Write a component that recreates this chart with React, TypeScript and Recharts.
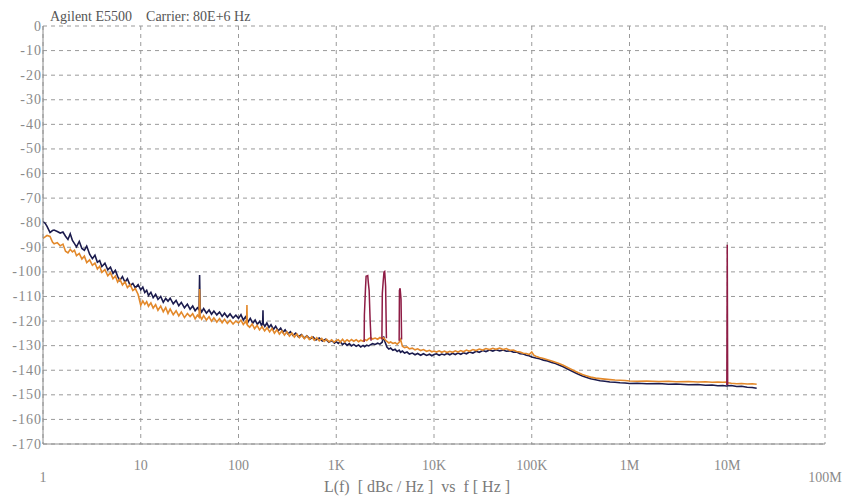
import { LineChart, Line, XAxis, YAxis, CartesianGrid } from "recharts"

// Phase noise traces, [offset frequency Hz, L(f) dBc/Hz]
const navyDecade1: [number, number][] = [
  [1, -79.6], [1.05, -80.2], [1.1, -81.5], [1.18, -84], [1.25, -83.2], [1.3, -83], [1.4, -83.6], [1.5, -84.2],
  [1.6, -83.8], [1.7, -85.5], [1.8, -86.8], [1.9, -84.5], [2.0, -87.2], [2.1, -88.5], [2.2, -89.8], [2.35, -87.6],
  [2.5, -90.5], [2.65, -91.2], [2.8, -89.5], [3.0, -92.8], [3.2, -94.6], [3.4, -93.2], [3.6, -96.1], [3.8, -95.4],
  [4.0, -97.8], [4.3, -96.5], [4.6, -99.2], [4.9, -98.1], [5.2, -100.6], [5.5, -99.4], [5.8, -101.8], [6.1, -103.5],
  [6.5, -101.9], [6.9, -104.2], [7.3, -102.8], [7.8, -105.6], [8.3, -104.7], [8.8, -106.5], [9.4, -105.2], [10, -107.3],
]
const navyDecade2: [number, number][] = [
  [10.5, -106.2], [11, -108.4], [11.5, -107.5], [12, -109.6], [12.7, -108.3], [13.4, -110.5], [14.2, -109.1], [15, -111.2],
  [16, -110.0], [17, -112.4], [18, -110.8], [19, -111.9], [20, -110.7], [21.5, -113.0], [23, -111.6], [24.5, -113.8],
  [26, -112.4], [28, -114.6], [30, -113.1], [32, -115.2], [34, -113.9], [36, -115.8], [38, -114.6], [39.5, -115.4],
  [40, -101.3], [40.5, -114.8], [42, -116.3], [44, -114.9], [47, -116.8], [50, -115.5], [53, -117.2], [56, -115.9],
  [60, -117.5], [64, -116.3], [68, -118.1], [72, -116.8], [77, -118.4], [82, -117.1], [88, -118.8], [94, -117.6], [100, -118.9],
]
const navyDecade3: [number, number][] = [
  [106, -117.4], [112, -119.6], [118, -118.3], [125, -120.4], [132, -118.9], [140, -120.9], [148, -119.6], [156, -121.3],
  [165, -120.1], [172, -121.8], [177, -120.5], [178, -115.6], [179, -121.0], [186, -122.2], [195, -120.8], [205, -122.6],
  [215, -121.5], [228, -123.4], [240, -122.1], [255, -124.0], [270, -122.9], [285, -124.6], [300, -123.6], [320, -125.2],
  [340, -124.3], [360, -125.8], [385, -124.9], [410, -126.4], [440, -125.5], [470, -126.9], [500, -126.0], [540, -127.3],
  [580, -126.5], [620, -127.7], [670, -126.9], [720, -128.1], [780, -127.4], [840, -128.6], [900, -127.9], [960, -129.0], [1000, -128.4],
]
const navyDecade4: [number, number][] = [
  [1050, -129.1], [1100, -128.4], [1160, -129.6], [1220, -128.9], [1290, -129.9], [1360, -129.2], [1430, -130.1], [1510, -129.5],
  [1600, -130.3], [1690, -129.7], [1780, -130.5], [1880, -129.9], [1950, -130.4], [2050, -129.8], [2150, -130.1], [2250, -129.6],
  [2350, -129.2], [2500, -129.5], [2650, -129.0], [2800, -129.4], [2950, -128.6], [3050, -126.3], [3150, -128.4], [3300, -130.6],
  [3450, -131.4], [3600, -131.0], [3800, -131.9], [4000, -131.5], [4200, -132.4], [4400, -131.8], [4550, -132.7], [4750, -132.2],
  [5000, -133.0], [5300, -132.6], [5600, -133.4], [6000, -133.0], [6400, -133.7], [6800, -133.2], [7300, -133.9], [7800, -133.3],
  [8400, -134.0], [9000, -133.5], [9500, -134.1], [10000, -133.6],
]
const navyDecade5: [number, number][] = [
  [10600, -133.3], [11300, -133.9], [12000, -133.4], [12800, -133.8], [13600, -133.2], [14500, -133.7], [15500, -133.1],
  [16500, -133.6], [17600, -133.0], [18800, -133.5], [20000, -132.9], [21500, -133.3], [23000, -132.6], [25000, -133.0],
  [27000, -132.3], [29000, -132.7], [31500, -132.0], [34000, -132.4], [37000, -131.8], [40000, -132.2], [43000, -131.7],
  [47000, -132.1], [51000, -131.8], [55000, -132.3], [60000, -132.1], [65000, -132.7], [70000, -132.6], [76000, -133.3],
  [82000, -133.4], [88000, -133.9], [94000, -134.1], [100000, -134.6],
]
const navyHigh: [number, number][] = [
  [110000, -135.0], [120000, -135.3], [132000, -135.9], [145000, -136.2], [160000, -136.9], [175000, -137.3], [190000, -137.9],
  [210000, -138.6], [230000, -139.4], [250000, -140.1], [275000, -140.9], [300000, -141.6], [330000, -142.3], [360000, -142.9],
  [400000, -143.5], [450000, -143.9], [500000, -144.3], [560000, -144.5], [630000, -144.8], [710000, -144.9], [800000, -145.1],
  [900000, -145.2], [1000000, -145.4], [1200000, -145.3], [1500000, -145.5], [2000000, -145.4], [2500000, -145.7],
  [3000000, -145.6], [4000000, -145.9], [5000000, -145.8], [6000000, -146.1], [7000000, -146.0], [8000000, -146.3],
  [9000000, -146.2], [9800000, -146.4], [10200000, -146.3], [11000000, -146.2], [12500000, -146.6], [14000000, -146.5],
  [16000000, -146.9], [18000000, -147.0], [20000000, -147.3],
]

const orangeDecade1: [number, number][] = [
  [1, -86.4], [1.05, -85.8], [1.1, -85.2], [1.18, -85.6], [1.25, -87.9], [1.3, -88.6], [1.4, -88.1], [1.5, -89.4],
  [1.6, -88.7], [1.7, -91.6], [1.8, -92.3], [1.9, -90.8], [2.0, -91.9], [2.1, -91.2], [2.2, -93.4], [2.35, -92.5],
  [2.5, -94.8], [2.65, -93.6], [2.8, -96.2], [3.0, -95.1], [3.2, -97.3], [3.4, -96.4], [3.6, -98.8], [3.8, -97.7],
  [4.0, -100.2], [4.3, -99.1], [4.6, -101.6], [4.9, -100.3], [5.2, -102.8], [5.5, -101.7], [5.8, -104.1], [6.1, -102.9],
  [6.5, -105.3], [6.9, -104.0], [7.3, -106.4], [7.8, -105.2], [8.3, -107.6], [8.8, -106.8], [9.4, -109.2], [10, -113.6],
]
const orangeDecade2: [number, number][] = [
  [10.5, -111.8], [11, -113.2], [11.5, -112.1], [12, -114.0], [12.7, -112.6], [13.4, -114.7], [14.2, -113.3], [15, -115.6],
  [16, -113.9], [17, -116.2], [18, -114.5], [19, -116.9], [20, -115.1], [21.5, -117.4], [23, -115.8], [24.5, -117.9],
  [26, -116.3], [28, -118.6], [30, -116.9], [32, -118.2], [34, -117.0], [36, -119.1], [38, -117.6], [39.5, -118.4],
  [40, -107.0], [40.5, -118.0], [42, -119.3], [44, -117.8], [47, -119.6], [50, -118.2], [53, -120.1], [56, -118.7],
  [60, -120.4], [64, -119.0], [68, -120.7], [72, -119.3], [77, -121.0], [82, -119.7], [88, -121.2], [94, -120.0], [100, -120.8],
]
const orangeDecade3: [number, number][] = [
  [106, -119.6], [112, -121.4], [118, -120.2], [121, -121.0], [122, -113.5], [123, -121.6], [130, -122.5], [138, -121.2],
  [146, -123.1], [155, -121.8], [164, -123.6], [174, -122.3], [185, -124.0], [196, -122.7], [208, -124.4], [220, -123.0],
  [233, -124.9], [247, -123.5], [262, -125.3], [278, -124.0], [295, -125.7], [313, -124.4], [332, -126.1], [352, -124.9],
  [373, -126.5], [396, -125.3], [420, -126.8], [445, -125.7], [472, -127.2], [500, -126.1], [530, -127.5], [562, -126.4],
  [596, -127.8], [632, -126.8], [670, -128.0], [710, -127.1], [753, -128.3], [798, -127.4], [846, -128.5], [897, -127.6],
  [950, -128.6], [1000, -127.9],
]
const orangeDecade4: [number, number][] = [
  [1050, -127.6], [1100, -128.6], [1160, -127.4], [1220, -128.5], [1290, -127.6], [1360, -128.3], [1430, -127.5], [1510, -128.2],
  [1600, -127.6], [1690, -128.4], [1780, -127.8], [1880, -128.2], [1950, -127.5], [2050, -127.9], [2150, -127.2], [2250, -126.8],
  [2350, -127.3], [2500, -126.9], [2650, -127.4], [2800, -126.7], [2950, -127.2], [3050, -126.8], [3150, -127.5], [3300, -128.3],
  [3450, -128.9], [3600, -128.5], [3800, -129.1], [4000, -128.8], [4200, -129.4], [4400, -128.6], [4550, -127.5], [4750, -130.2],
  [5000, -130.8], [5300, -130.5], [5600, -131.3], [6000, -131.0], [6400, -131.7], [6800, -131.3], [7300, -132.0], [7800, -131.6],
  [8400, -132.3], [9000, -131.9], [9500, -132.5], [10000, -132.2],
]
const orangeDecade5: [number, number][] = [
  [10600, -132.6], [11300, -132.1], [12000, -132.7], [12800, -132.2], [13600, -132.8], [14500, -132.3], [15500, -132.7],
  [16500, -132.1], [17600, -132.6], [18800, -132.0], [20000, -132.5], [21500, -131.8], [23000, -132.3], [25000, -131.6],
  [27000, -132.0], [29000, -131.4], [31500, -131.8], [34000, -131.2], [37000, -131.6], [40000, -131.1], [43000, -131.5],
  [47000, -131.0], [51000, -131.6], [55000, -131.2], [60000, -131.9], [65000, -131.8], [70000, -132.4], [76000, -132.6],
  [82000, -133.1], [88000, -133.2], [94000, -133.6], [100000, -132.6],
]
const orangeHigh: [number, number][] = [
  [105000, -133.9], [110000, -134.3], [120000, -134.8], [132000, -135.2], [145000, -135.7], [160000, -136.2], [175000, -136.8],
  [190000, -137.3], [210000, -138.0], [230000, -138.8], [250000, -139.5], [275000, -140.3], [300000, -141.0], [330000, -141.7],
  [360000, -142.2], [400000, -142.8], [450000, -143.2], [500000, -143.4], [560000, -143.6], [630000, -143.8], [710000, -144.0],
  [800000, -144.1], [900000, -144.2], [1000000, -144.4], [1200000, -144.5], [1500000, -144.4], [2000000, -144.6],
  [2500000, -144.5], [3000000, -144.7], [4000000, -144.6], [5000000, -144.8], [6000000, -144.7], [7000000, -144.9],
  [8000000, -144.8], [9000000, -144.9], [9800000, -144.8], [10200000, -145.1], [11000000, -145.3], [12500000, -145.5],
  [14000000, -145.4], [16000000, -145.6], [18000000, -145.5], [20000000, -145.7],
]

// discrete spurs
const spur2k: [number, number][] = [
  [1930, -128.5], [1940, -117.5], [1990, -107], [2020, -101.8], [2100, -101.5], [2130, -104.5], [2170, -107.5], [2220, -119.5], [2270, -128],
]
const spur3k: [number, number][] = [
  [2930, -127.5], [2960, -108.7], [3020, -104], [3080, -100], [3130, -99.8], [3200, -106], [3260, -127],
]
const spur4k5: [number, number][] = [
  [4400, -128], [4430, -107.5], [4500, -106.7], [4600, -111], [4660, -127.5],
]
const spur10M: [number, number][] = [
  [9900000, -146], [10000000, -89], [10100000, -146],
]

const decadeTicks = [1, 10, 100, 1e3, 1e4, 1e5, 1e6, 1e7, 1e8]
const decadeLabels = ["1", "10", "100", "1K", "10K", "100K", "1M", "10M", "100M"]
const minorFreqTicks = [
  2, 4, 6, 8, 20, 40, 60, 80, 200, 400, 600, 800, 2e3, 4e3, 6e3, 8e3,
  2e4, 4e4, 6e4, 8e4, 2e5, 4e5, 6e5, 8e5, 2e6, 4e6, 6e6, 8e6, 2e7, 4e7, 6e7, 8e7,
]
const dbTicks = [0, -10, -20, -30, -40, -50, -60, -70, -80, -90, -100, -110, -120, -130, -140, -150, -160, -170]
const dbMinorTicks = [
  -5, -10, -15, -20, -25, -30, -35, -40, -45, -50, -55, -60, -65, -70, -75, -80, -85,
  -90, -95, -100, -105, -110, -115, -120, -125, -130, -135, -140, -145, -150, -155, -160, -165,
]

const toPoints = (rows: [number, number][]) => rows.map(([f, db]) => ({ f, db }))

const navy = toPoints([...navyDecade1, ...navyDecade2, ...navyDecade3, ...navyDecade4, ...navyDecade5, ...navyHigh])
const orange = toPoints([...orangeDecade1, ...orangeDecade2, ...orangeDecade3, ...orangeDecade4, ...orangeDecade5, ...orangeHigh])
const spurs = [spur2k, spur3k, spur4k5, spur10M].map(toPoints)

const SERIF = "Liberation Serif, DejaVu Serif, serif"
const AXIS = "#8c8c8c"
const LABEL = "#8a8a8a"

function FreqTick({ x, y, payload }: any) {
  const i = decadeTicks.indexOf(payload.value)
  const dropped = i === 0 || i === decadeTicks.length - 1
  return (
    <text x={x} y={y + (dropped ? 33 : 21)} textAnchor="middle" dominantBaseline="central"
      fill={LABEL} style={{ fontFamily: SERIF, fontSize: 14 }}>
      {decadeLabels[i]}
    </text>
  )
}

function DbTick({ x, y, payload }: any) {
  return (
    <text x={x} y={y} textAnchor="end" dominantBaseline="central"
      fill={LABEL} style={{ fontFamily: SERIF, fontSize: 14, letterSpacing: 1 }}>
      {payload.value}
    </text>
  )
}

export default function App() {
  return (
    <div style={{ position: "fixed", left: 0, top: 0, width: 854, height: 498, background: "#fff" }}>
      <LineChart width={854} height={498} margin={{ top: 26, right: 29, bottom: 0, left: 0 }}>
        <CartesianGrid stroke="#9a9a9a" strokeDasharray="4 4" />
        <XAxis type="number" dataKey="f" scale="log" domain={[1, 1e8]} allowDataOverflow
          ticks={decadeTicks} interval={0} tick={<FreqTick />} tickLine={false}
          tickSize={0} tickMargin={0} height={54} axisLine={{ stroke: AXIS }} />
        <XAxis xAxisId="minorBottom" type="number" dataKey="f" scale="log" domain={[1, 1e8]} allowDataOverflow
          ticks={minorFreqTicks} interval={0} tick={false} tickSize={4} mirror height={0}
          axisLine={false} tickLine={{ stroke: AXIS }} />
        <XAxis xAxisId="minorTop" orientation="top" type="number" dataKey="f" scale="log" domain={[1, 1e8]}
          allowDataOverflow ticks={minorFreqTicks} interval={0} tick={false} tickSize={4} mirror height={0}
          axisLine={{ stroke: AXIS }} tickLine={{ stroke: AXIS }} />
        <YAxis type="number" domain={[-170, 0]} allowDataOverflow ticks={dbTicks} interval={0}
          tick={<DbTick />} tickLine={false} tickSize={0} tickMargin={1} width={43} axisLine={{ stroke: AXIS }} />
        <YAxis yAxisId="minorLeft" type="number" domain={[-170, 0]} allowDataOverflow ticks={dbMinorTicks}
          interval={0} tick={false} tickSize={10} mirror width={0} axisLine={false} tickLine={{ stroke: AXIS }} />
        <YAxis yAxisId="minorRight" orientation="right" type="number" domain={[-170, 0]} allowDataOverflow
          ticks={dbMinorTicks} interval={0} tick={false} tickSize={10} mirror width={0}
          axisLine={{ stroke: AXIS }} tickLine={{ stroke: AXIS }} />
        <Line data={navy} dataKey="db" stroke="#1b1b4d" strokeWidth={1.6} dot={false} isAnimationActive={false} />
        <Line data={orange} dataKey="db" stroke="#e3892b" strokeWidth={1.6} dot={false} isAnimationActive={false} />
        {spurs.map((s, i) => (
          <Line key={i} data={s} dataKey="db" stroke="#8e1c45" strokeWidth={1.5} dot={false} isAnimationActive={false} />
        ))}
      </LineChart>
      <div style={{ position: "absolute", left: 50, top: 9, fontFamily: SERIF, fontSize: 14, lineHeight: "16px", color: "#555", whiteSpace: "pre" }}>
        {"Agilent E5500    Carrier: 80E+6 Hz"}
      </div>
      <div style={{ position: "absolute", left: 0, top: 478, width: 834, textAlign: "center", fontFamily: SERIF, fontSize: 16, lineHeight: "18px", color: "#7a7a7a", whiteSpace: "pre" }}>
        {"L(f)  [ dBc / Hz ]  vs  f [ Hz ]"}
      </div>
    </div>
  )
}
